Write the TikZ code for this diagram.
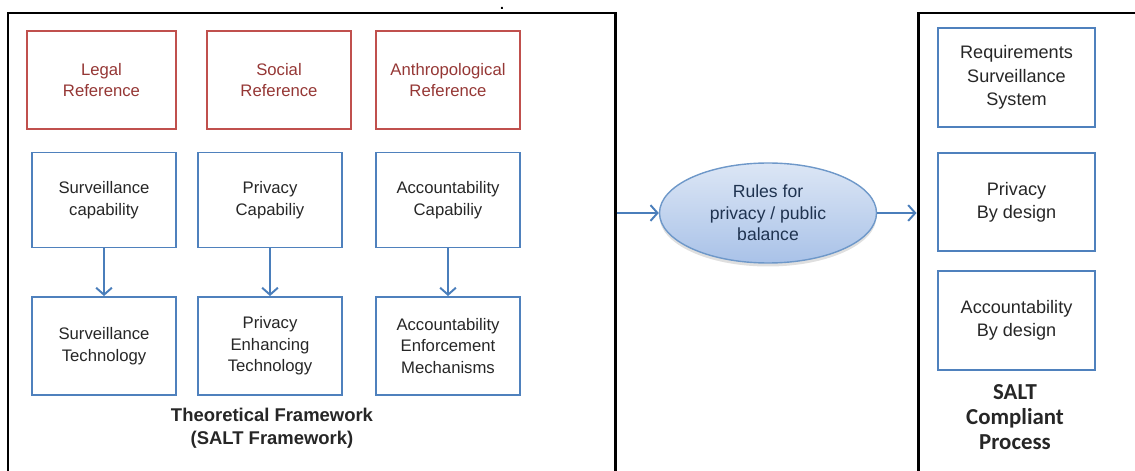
\documentclass[tikz,border=0pt]{standalone}
\usepackage{fontspec}
\setmainfont{Liberation Sans}
\newfontfamily\calibri{Carlito}
\usepackage{tikz}
\usetikzlibrary{arrows.meta, shapes.geometric, shadows}
\definecolor{refred}{HTML}{C0504D}
\definecolor{reftext}{HTML}{953735}
\definecolor{capblue}{HTML}{4F81BD}
\definecolor{flowblue}{HTML}{4A7EBB}
\definecolor{ruletop}{HTML}{DCE6F5}
\definecolor{rulebot}{HTML}{A9C2E8}
\definecolor{ruletext}{HTML}{1F3350}

\begin{document}
\begin{tikzpicture}[
	refbox/.style={draw=refred, line width=1.1pt, text=reftext, align=center, minimum width=2.88cm, minimum height=1.96cm, font=\fontsize{9.5}{12.3}\selectfont},
	capbox/.style={draw=capblue, line width=1.1pt, text=black!85, align=center, minimum width=2.88cm, minimum height=1.96cm, font=\fontsize{9.5}{12.3}\selectfont},
	outbox/.style={capbox, minimum width=3.14cm, minimum height=1.97cm, font=\fontsize{10.3}{13.2}\selectfont},
	framebox/.style={draw, line width=1.7pt, minimum height=9.54cm},
	flow/.style={draw=flowblue, line width=1.1pt, -{Straight Barb[length=4pt, width=9pt]}},
]
	\def\colA{2.08}
	\def\colB{5.4}
	\def\colC{8.96}
	\def\colR{20.33}

	\useasboundingbox (0,0) rectangle (22.7,-9.42);
	\clip (0,0) rectangle (22.7,-9.42);

	\node[framebox, minimum width=12.14cm]	(theory)	at (6.23,-5.03) {};
	\node[framebox, minimum width=4.64cm]	(process)	at (20.68,-5.03) {};
	\node[font=\bfseries\fontsize{8}{9}\selectfont, inner sep=0pt, anchor=base]	(dot)	at (10.04,-0.2) {.};

	\node[refbox, minimum width=2.98cm]	(legal)	at (2.03,-1.6) {Legal\\Reference};
	\node[refbox]				(social)	at (5.58,-1.6) {Social\\Reference};
	\node[refbox]				(anthro)	at (\colC,-1.6) {Anthropological\\Reference};

	\node[capbox, minimum height=1.9cm]	(survcap)	at (\colA,-4.0) {Surveillance\\capability};
	\node[capbox, minimum height=1.9cm]	(privcap)	at (\colB,-4.0) {Privacy\\Capabiliy};
	\node[capbox, minimum height=1.9cm]	(acccap)	at (\colC,-4.0) {Accountability\\Capabiliy};

	\node[capbox]	(survtech)	at (\colA,-6.92) {Surveillance\\Technology};
	\node[capbox]	(pet)		at (\colB,-6.92) {Privacy\\Enhancing\\Technology};
	\node[capbox]	(accmech)	at (\colC,-6.92) {Accountability\\Enforcement\\Mechanisms};

	\node[align=center, font=\bfseries\fontsize{10.5}{13}\selectfont, text=black!85]	(theorytitle)	at (5.44,-8.56) {Theoretical Framework\\(SALT Framework)};

	\node[ellipse, draw=flowblue!80, line width=0.8pt, top color=ruletop, bottom color=rulebot, minimum width=4.34cm, minimum height=2.0cm, align=center, text=ruletext, font=\fontsize{10}{12.3}\selectfont, drop shadow={opacity=0.25, shadow xshift=0pt, shadow yshift=-0.07cm}]	(rules)	at (15.36,-4.26) {Rules for\\privacy / public\\balance};

	\node[outbox]	(req)		at (\colR,-1.55) {Requirements\\Surveillance\\System};
	\node[outbox]	(pbd)		at (\colR,-4.04) {Privacy\\By design};
	\node[outbox]	(abd)		at (\colR,-6.41) {Accountability\\By design};

	\node[align=center, font=\calibri\bfseries\fontsize{13}{14.2}\selectfont, text=black!85]	(processtitle)	at (20.3,-8.34) {SALT\\Compliant\\Process};

	\draw[flow]	(survcap) -- (survtech);
	\draw[flow]	(privcap) -- (pet);
	\draw[flow]	(acccap) -- (accmech);
	\draw[flow]	(theory.east |- rules.west) -- (rules.west);
	\draw[flow]	(rules.east) -- (process.west |- rules.east);
\end{tikzpicture}
\end{document}
